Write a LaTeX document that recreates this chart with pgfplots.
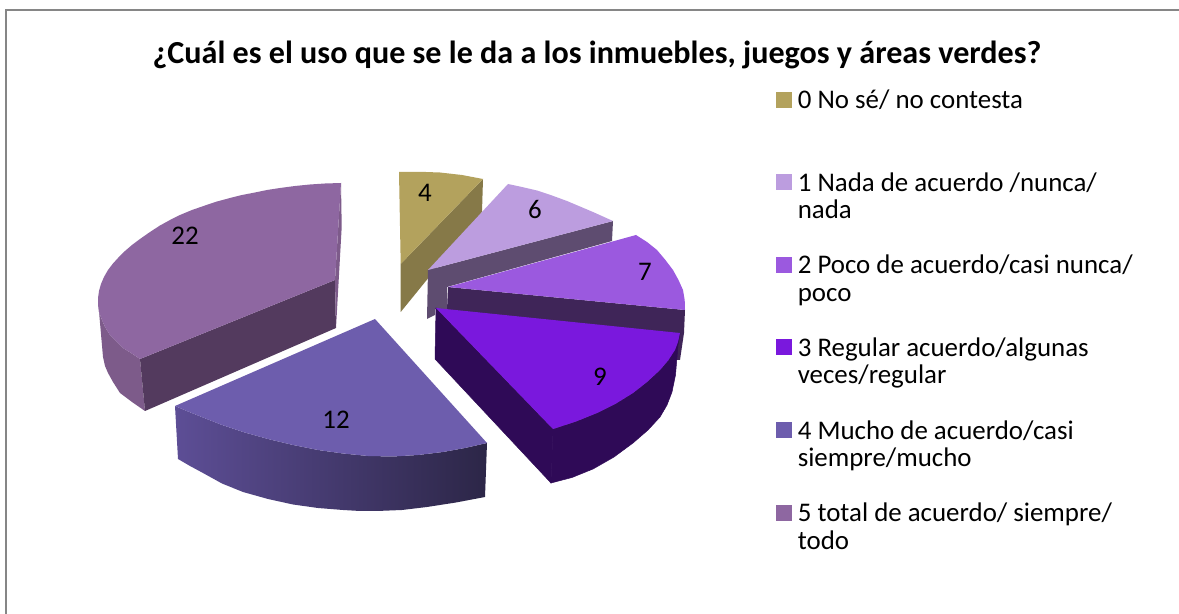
\documentclass[border=0pt]{standalone}
\usepackage{pgfplots}
\pgfplotsset{compat=1.18}
\usepackage{fontspec}
\setmainfont{Carlito}
\definecolor{cA}{HTML}{B3A25D}\definecolor{cAs}{HTML}{867948}
\definecolor{cB}{HTML}{BC9DDF}\definecolor{cBs}{HTML}{5E4C70}
\definecolor{cC}{HTML}{9B59DF}\definecolor{cCs}{HTML}{3F2558}
\definecolor{cD}{HTML}{7A18DD}\definecolor{cDs}{HTML}{2F0A57}
\definecolor{cE}{HTML}{6D5DAD}\definecolor{cEl}{HTML}{5D4E96}\definecolor{cEr}{HTML}{2C2647}
\definecolor{cF}{HTML}{8E67A1}\definecolor{cFs}{HTML}{533A5E}\definecolor{cFo}{HTML}{7D5B8A}
\definecolor{frameC}{HTML}{868686}
\newcommand{\entry}[2]{\parbox[c][41.25pt][t]{185pt}{\fontsize{13.45}{13.6}\selectfont #1\\#2}}
\newcommand{\sq}[1]{\addlegendimage{legend image code/.code={\fill[#1] (0pt,3.85pt) rectangle (7.5pt,11.35pt);}}}
\begin{document}
\begin{tikzpicture}
\begin{axis}[
  width=589.5pt,height=307pt,scale only axis,
  xmin=0,xmax=1179,ymin=0,ymax=614,y dir=reverse,
  hide axis,clip=true,
  legend style={at={(axis cs:776,90)},anchor=north west,draw=none,fill=none,inner sep=0pt,outer sep=0pt,
    nodes={inner sep=0pt,outer sep=0pt},row sep=16.7pt,column sep=3pt},
  legend cell align=left,
  every axis plot/.append style={forget plot},
]
% frame
\addplot[draw=none] coordinates {(0,0)(1179,614)};
\addplot[color=frameC,line width=1pt] coordinates {(6,614)(6,10)(1179,10)};
% 4 (gold)
\addplot[fill=cAs,draw=none] coordinates {(483,179)(482,212)(400.7,312)(400.7,264)} -- cycle;
\addplot[fill=cA,draw=none] coordinates {(399,172)(420,171.8)(440,172.5)(462,175)(483,179)(400.7,264)} -- cycle;
% 6 (light purple)
\addplot[fill=cBs,draw=none] coordinates {(428,270)(613,221)(612,241)(447,287)(447,310)(435,309)(435,315)(427,319)} -- cycle;
\addplot[fill=cB,draw=none] coordinates {(508,184)(522,187)(537,190.5)(552,195.5)(567,201)(580,206.5)(593,212)(603,216.5)(613,221)(428,270)} -- cycle;
% 7
\addplot[fill=cCs,draw=none] coordinates {(448,287)(685,310)(684,333)(680,360)(600,360)(447,310)} -- cycle;
\addplot[fill=cC,draw=none] coordinates {(636,235)(647,242)(657,250)(665,259.5)(673,270)(678.5,280)(683,290)(684.7,300)(685,310)(448,287)} -- cycle;
% 9
\addplot[fill=cDs,draw=cDs,line width=0.25pt] coordinates {(680,333)(678,345)(677,357)(675.5,375)(672,392)(667,405)(660,417)(648,430)(633,443)(614,457)(593,469)(572,477.5)(551,483)(553,429)(576,421.5)(597,413)(616,403.5)(633,393)(647,382)(660,370)(668.5,360)(675,350)(678,342)} -- cycle;
\addplot[fill=cDs,draw=cDs,line width=0.25pt] coordinates {(436,308)(553,429)(551,483)(435,359)} -- cycle;
\addplot[fill=cD,draw=none] coordinates {(436,308)(680,333)(678,342)(675,350)(668.5,360)(660,370)(647,382)(633,393)(616,403.5)(597,413)(576,421.5)(553,429)} -- cycle;
% 22
\addplot[fill=cFo,draw=none] coordinates {(98,300)(99,312)(102,320)(105,327)(110,335)(117,342)(123,348)(131,353)(140,359)(145,411)(132,402)(120,393)(113,382)(108,373)(105,366)(103,357)} -- cycle;
\addplot[fill=cFs,draw=none] coordinates {(140,359)(335,280)(336,328)(145,411)} -- cycle;
\addplot[fill=cFo,draw=none] coordinates {(341,183)(341.7,227)(336,328)(335,280)} -- cycle;
\addplot[fill=cF,draw=none] coordinates {(341,183)(325,183.5)(310,184.5)(295,186)(280,188)(267,190)(255,192.5)(242,195)(230,198)(217,201.5)(205,205.5)(192,210)(180,215)(170,220)(160,225.5)(150,232)(140,239)(132,245)(125,251)(118,258)(113,263.5)(108,270)(104,277)(101,284)(99,291)(98,298)(98,305)(99,312)(102,320)(105,327)(110,335)(117,342)(123,348)(131,353)(140,359)(335,280)} -- cycle;
% 12
\addplot[left color=cEl,right color=cEr,draw=none] coordinates {(175,406)(188,411.5)(203,417.5)(222,425)(243,432)(268,439)(293,445)(318,450)(343,453.5)(368,456)(393,456.5)(418,455)(443,452)(465,448)(487,443)(485,497)(456,502.5)(427,507)(402,510)(377,511)(360,511)(343,510)(318,508)(293,504.5)(268,499)(243,492)(222,483.5)(203,473)(190,466)(178,459)} -- cycle;
\addplot[fill=cE,draw=none] coordinates {(375,319)(487,443)(465,448)(443,452)(418,455)(393,456.5)(368,456)(343,453.5)(318,450)(293,445)(268,439)(243,432)(222,425)(203,417.5)(188,411.5)(175,406)} -- cycle;
% value labels
\begin{scope}[every node/.style={font=\fontsize{13.45}{14}\selectfont,text=black}]
\node at (axis cs:425,193) {4};
\node at (axis cs:535,210) {6};
\node at (axis cs:645,272) {7};
\node at (axis cs:600,377) {9};
\node at (axis cs:336,420) {12};
\node at (axis cs:185,236) {22};
\end{scope}
\node[font=\fontsize{16.05}{17}\selectfont\bfseries] at (axis cs:597,55) {¿Cuál es el uso que se le da a los inmuebles, juegos y áreas verdes?};
% legend
\sq{cA}\addlegendentry{\entry{0 No sé/ no contesta}{\strut}}
\sq{cB}\addlegendentry{\entry{1 Nada de acuerdo /nunca/}{nada}}
\sq{cC}\addlegendentry{\entry{2 Poco de acuerdo/casi nunca/}{poco}}
\sq{cD}\addlegendentry{\entry{3 Regular acuerdo/algunas}{veces/regular}}
\sq{cE}\addlegendentry{\entry{4 Mucho de acuerdo/casi}{siempre/mucho}}
\sq{cF}\addlegendentry{\entry{5 total de acuerdo/ siempre/}{todo}}
\end{axis}
\end{tikzpicture}
\end{document}
